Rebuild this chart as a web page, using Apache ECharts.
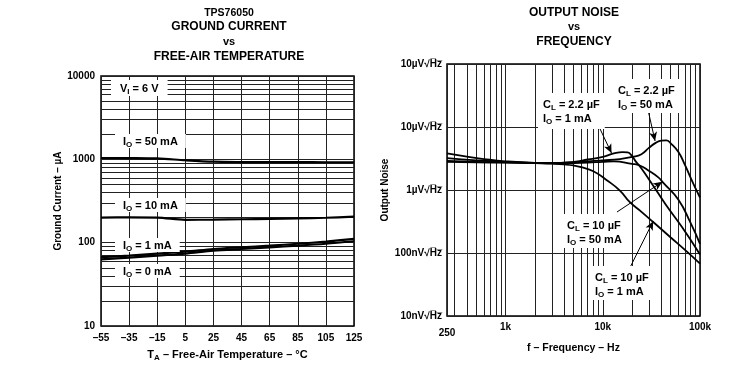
<!DOCTYPE html>
<html>
<head>
<meta charset="utf-8">
<script src="https://cdn.jsdelivr.net/npm/echarts@6/dist/echarts.min.js"></script>
<style>
html,body{margin:0;padding:0;background:#fff;}
#c{width:731px;height:367px;}
</style>
</head>
<body>
<div id="c"></div>
<script>
// ---------- Left chart data: Ground current vs free-air temperature ----------
const temps = [-55, -35, -15, 5, 25, 45, 65, 85, 105, 125];
const tempLabels = ['–55', '–35', '–15', '5', '25', '45', '65', '85', '105', '125'];
const gc50mA = [1038, 1036, 1025, 975, 938, 928, 925, 924, 923, 922];
const gc10mA = [200, 201, 200, 188, 189, 191, 193, 196, 199, 205];
const gc1mA = [67, 70, 74, 78, 84, 88, 92, 97, 103, 111];
const gc0mA = [63, 66, 70, 74, 80, 84, 88, 92, 97, 104];
const currentTicks = [10, 100, 1000, 10000];
const currentTickLabels = ['10', '100', '1000', '10000'];

// ---------- Right chart data: Output noise (µV/√Hz) vs frequency ----------
const fA = [250, 500, 1000, 2000, 3000, 5000, 7000, 10000, 15000, 20000, 25000, 30000, 35000, 40000, 45000, 50000, 60000, 70000, 80000, 90000, 100000];
const nA = [2.9, 2.8, 2.75, 2.7, 2.68, 2.75, 2.85, 2.95, 3.1, 3.35, 3.7, 4.7, 5.6, 6.1, 6.15, 5.5, 4.0, 2.5, 1.57, 1.06, 0.76]; // CL=2.2uF IO=50mA
const fB = [250, 400, 600, 1000, 2000, 3000, 5000, 7000, 10000, 13000, 16000, 18000, 20000, 22000, 25000, 32000, 44000, 65000, 100000];
const nB = [3.8, 3.4, 3.1, 2.85, 2.7, 2.68, 2.8, 3.05, 3.35, 3.8, 4.0, 3.95, 3.45, 2.8, 2.2, 1.26, 0.6, 0.26, 0.095]; // CL=2.2uF IO=1mA
const fC = [250, 500, 1000, 2000, 3000, 5000, 7000, 10000, 13000, 20000, 24000, 30000, 37000, 42000, 60000, 80000, 100000];
const nC = [2.8, 2.75, 2.72, 2.68, 2.66, 2.68, 2.72, 2.8, 2.85, 2.6, 2.45, 2.0, 1.6, 1.3, 0.7, 0.3, 0.14]; // CL=10uF IO=50mA
const fD = [250, 500, 1000, 2000, 3000, 4000, 5000, 6000, 8000, 11000, 15000, 19000, 25000, 33000, 50000, 70000, 100000];
const nD = [3.2, 2.95, 2.78, 2.68, 2.62, 2.55, 2.45, 2.3, 1.98, 1.43, 0.98, 0.64, 0.45, 0.31, 0.176, 0.112, 0.068]; // CL=10uF IO=1mA
const freqTicks = [250, 1000, 10000, 100000];
const freqTickLabels = ['250', '1k', '10k', '100k'];
const noiseTicks = [0.01, 0.1, 1, 10, 100];
const noiseTickLabels = ['10nV√H\u0305z\u0305', '100nV√H\u0305z\u0305', '1µV√H\u0305z\u0305', '10µV√H\u0305z\u0305', '10µV√H\u0305z\u0305'];

// arrows: [label-end point, tip point] in data space
const arrowB = [[8700, 11.9], [12300, 3.85]];
const arrowA = [[28600, 21.4], [34500, 6.0]];
const arrowC = [[14000, 0.447], [41000, 1.35]];
const arrowD = [[18200, 0.051], [33000, 0.32]];

// ---------- helpers ----------
const FF = '"Liberation Sans", Arial, sans-serif';
const zip = (xs, ys) => xs.map((x, i) => [x, ys[i]]);
const minorLog = (from, to) => { const out = []; for (let d = from; d < to; d *= 10) for (let k = 2; k <= 9; k++) out.push(d * k); return out; };
const GRID_C = '#222';

const rich = {
  n: { fontFamily: FF, fontWeight: 'bold', fontSize: 11, lineHeight: 14, verticalAlign: 'bottom', color: '#000' },
  s: { fontFamily: FF, fontWeight: 'bold', fontSize: 8, lineHeight: 10, verticalAlign: 'bottom', padding: [0, 0, -2, 0], color: '#000' }
};
const richL = {
  n: { fontFamily: FF, fontWeight: 'bold', fontSize: 11, lineHeight: 12, verticalAlign: 'bottom', color: '#000' },
  s: { fontFamily: FF, fontWeight: 'bold', fontSize: 8, lineHeight: 9, verticalAlign: 'bottom', padding: [0, 0, -2, 0], color: '#000' }
};
function sub(a, b, rest) { return '{n|' + a + '}{s|' + b + '}{n|' + rest + '}'; }

function lbl(x, y, text, pad, r) {
  return { type: 'text', x: x, y: y, z: 50,
    style: { text: text, rich: r || rich, align: 'left', verticalAlign: 'middle', backgroundColor: '#fff', padding: pad || [1, 8], fill: '#000' } };
}
function title(x, y, text, size) {
  return { type: 'text', x: x, y: y, z: 50,
    style: { text: text, font: 'bold ' + size + 'px ' + FF, align: 'center', verticalAlign: 'middle', fill: '#000' } };
}

const lineStyleL = { color: '#000', width: 2.2 };
const lineStyleR = { color: '#000', width: 1.8 };

const option = {
  animation: false,
  backgroundColor: '#fff',
  grid: [
    { left: 101, top: 76, width: 253, height: 253, show: true, borderColor: '#000', borderWidth: 1.5, backgroundColor: 'transparent' },
    { left: 447, top: 64, width: 253, height: 252, show: true, borderColor: '#000', borderWidth: 1.5, backgroundColor: 'transparent' }
  ],
  xAxis: [
    { gridIndex: 0, type: 'value', min: -55, max: 125, interval: 20,
      axisLine: { show: false }, axisTick: { show: false },
      splitLine: { show: true, lineStyle: { color: GRID_C, width: 1 } },
      axisLabel: { margin: 7, color: '#000', fontFamily: FF, fontWeight: 'bold', fontSize: 10,
        formatter: v => { const i = temps.indexOf(Math.round(v)); return i >= 0 ? tempLabels[i] : ''; } },
      name: sub('T', 'A', ' – Free-Air Temperature – °C'), nameLocation: 'middle', nameGap: 20,
      nameTextStyle: { rich: rich }
    },
    { gridIndex: 1, type: 'log', logBase: 10, min: 250, max: 100000,
      axisLine: { show: false }, axisTick: { show: false },
      splitLine: { show: true, lineStyle: { color: GRID_C, width: 1 } },
      axisLabel: { margin: 6, color: '#000', fontFamily: FF, fontWeight: 'bold', fontSize: 10, showMinLabel: true, showMaxLabel: true,
        formatter: v => { const i = freqTicks.findIndex(t => Math.abs(t - v) / t < 1e-6); if (i < 0) return ''; return i === 0 ? '{low|' + freqTickLabels[i] + '}' : freqTickLabels[i]; },
        rich: { low: { fontFamily: FF, fontWeight: 'bold', fontSize: 10, color: '#000', padding: [6, 0, 0, 0] } } },
      name: 'f – Frequency – Hz', nameLocation: 'middle', nameGap: 22,
      nameTextStyle: { fontFamily: FF, fontWeight: 'bold', fontSize: 10.5, color: '#000' }
    }
  ],
  yAxis: [
    { gridIndex: 0, type: 'log', logBase: 10, min: 10, max: 10000,
      axisLine: { show: false }, axisTick: { show: false },
      splitLine: { show: true, lineStyle: { color: GRID_C, width: 1 } },
      axisLabel: { margin: 6, color: '#000', fontFamily: FF, fontWeight: 'bold', fontSize: 10,
        formatter: v => { const i = currentTicks.findIndex(t => Math.abs(t - v) / t < 1e-6); return i >= 0 ? currentTickLabels[i] : ''; } },
      name: 'Ground Current – µA', nameLocation: 'middle', nameGap: 37,
      nameTextStyle: { fontFamily: FF, fontWeight: 'bold', fontSize: 10, color: '#000' }
    },
    { gridIndex: 1, type: 'log', logBase: 10, min: 0.01, max: 100,
      axisLine: { show: false }, axisTick: { show: false },
      splitLine: { show: true, lineStyle: { color: GRID_C, width: 1 } },
      axisLabel: { margin: 5, color: '#000', fontFamily: FF, fontWeight: 'bold', fontSize: 10,
        formatter: v => { const i = noiseTicks.findIndex(t => Math.abs(t - v) / t < 1e-6); return i >= 0 ? noiseTickLabels[i] : ''; } },
      name: 'Output Noise', nameLocation: 'middle', nameGap: 57,
      nameTextStyle: { fontFamily: FF, fontWeight: 'bold', fontSize: 10, color: '#000' }
    }
  ],
  series: [
    // minor grid lines (left)
    { type: 'line', xAxisIndex: 0, yAxisIndex: 0, data: [], silent: true, z: 1,
      markLine: { silent: true, symbol: 'none', label: { show: false }, animation: false,
        lineStyle: { color: GRID_C, width: 1, type: 'solid' },
        emphasis: { disabled: true },
        data: minorLog(10, 10000).map(v => ({ yAxis: v })) } },
    // minor grid lines (right)
    { type: 'line', xAxisIndex: 1, yAxisIndex: 1, data: [], silent: true, z: 1,
      markLine: { silent: true, symbol: 'none', label: { show: false }, animation: false,
        lineStyle: { color: GRID_C, width: 1, type: 'solid' },
        emphasis: { disabled: true },
        data: minorLog(100, 100000).filter(v => v > 250).map(v => ({ xAxis: v })) } },
    // left curves
    { type: 'line', xAxisIndex: 0, yAxisIndex: 0, data: zip(temps, gc50mA), showSymbol: false, smooth: 0.3, lineStyle: lineStyleL, z: 5 },
    { type: 'line', xAxisIndex: 0, yAxisIndex: 0, data: zip(temps, gc10mA), showSymbol: false, smooth: 0.3, lineStyle: lineStyleL, z: 5 },
    { type: 'line', xAxisIndex: 0, yAxisIndex: 0, data: zip(temps, gc1mA), showSymbol: false, smooth: 0.3, lineStyle: lineStyleL, z: 5 },
    { type: 'line', xAxisIndex: 0, yAxisIndex: 0, data: zip(temps, gc0mA), showSymbol: false, smooth: 0.3, lineStyle: lineStyleL, z: 5 },
    // right curves
    { type: 'line', xAxisIndex: 1, yAxisIndex: 1, data: zip(fA, nA), showSymbol: false, smooth: 0.5, lineStyle: lineStyleR, z: 5 },
    { type: 'line', xAxisIndex: 1, yAxisIndex: 1, data: zip(fB, nB), showSymbol: false, smooth: 0.5, lineStyle: lineStyleR, z: 5 },
    { type: 'line', xAxisIndex: 1, yAxisIndex: 1, data: zip(fC, nC), showSymbol: false, smooth: 0.5, lineStyle: lineStyleR, z: 5 },
    { type: 'line', xAxisIndex: 1, yAxisIndex: 1, data: zip(fD, nD), showSymbol: false, smooth: 0.5, lineStyle: lineStyleR, z: 5 },
    // arrows (right)
    { type: 'line', xAxisIndex: 1, yAxisIndex: 1, data: [], silent: true, z: 60,
      markLine: { silent: true, symbol: ['none', 'arrow'], symbolSize: [6, 9], label: { show: false }, animation: false,
        lineStyle: { color: '#000', width: 1, type: 'solid' },
        emphasis: { disabled: true },
        data: [arrowA, arrowB, arrowC, arrowD].map(a => [{ coord: a[0] }, { coord: a[1] }]) } }
  ],
  graphic: [
    title(229, 13, 'TPS76050', 10.5),
    title(229, 27, 'GROUND CURRENT', 12),
    title(229, 42, 'vs', 11),
    title(229, 57, 'FREE-AIR TEMPERATURE', 12),
    title(574, 13, 'OUTPUT NOISE', 12),
    title(574, 27, 'vs', 11),
    title(574, 42, 'FREQUENCY', 12),
    lbl(111, 88, sub('V', 'I', ' = 6 V'), [2, 9], richL),
    lbl(115, 141, sub('I', 'O', ' = 50 mA'), [1, 8], richL),
    lbl(115, 205, sub('I', 'O', ' = 10 mA'), [1, 8], richL),
    lbl(115, 245, sub('I', 'O', ' = 1 mA'), [1, 8], richL),
    lbl(115, 271, sub('I', 'O', ' = 0 mA'), [1, 8], richL),
    lbl(538, 111, sub('C', 'L', ' = 2.2 µF') + '\n' + sub('I', 'O', ' = 1 mA'), [3, 5, 5, 5]),
    lbl(613, 96, sub('C', 'L', ' = 2.2 µF') + '\n' + sub('I', 'O', ' = 50 mA'), [3, 5, 3, 5]),
    lbl(562, 231, sub('C', 'L', ' = 10 µF') + '\n' + sub('I', 'O', ' = 50 mA'), [3, 5, 3, 5]),
    lbl(590, 283, sub('C', 'L', ' = 10 µF') + '\n' + sub('I', 'O', ' = 1 mA'), [3, 5, 3, 5])
  ]
};

const chart = echarts.init(document.getElementById('c'), null, { renderer: 'canvas', width: 731, height: 367 });
chart.setOption(option);
</script>
</body>
</html>
